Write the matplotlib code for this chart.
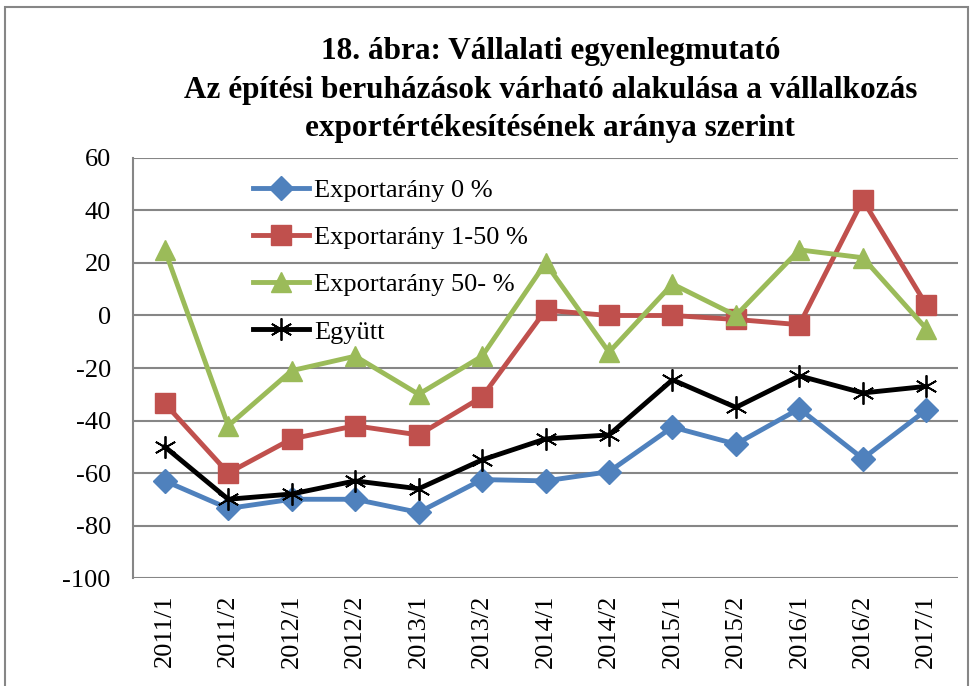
import matplotlib
matplotlib.use('Agg')
import matplotlib.pyplot as plt
from matplotlib.patches import Rectangle

categories = ['2011/1', '2011/2', '2012/1', '2012/2', '2013/1', '2013/2', '2014/1',
              '2014/2', '2015/1', '2015/2', '2016/1', '2016/2', '2017/1']
export_0 = [-63, -73.5, -70, -70, -75, -62.5, -63, -59.5, -42.5, -49, -35.5, -54.5, -36]
export_1_50 = [-33.5, -60, -47, -42, -45.5, -31, 2, 0, 0, -1.5, -3.5, 44, 4]
export_50 = [25, -42, -21, -15.5, -30, -15.5, 20, -14, 12, 0, 25, 22, -5]
egyutt = [-50, -70, -68, -63, -66, -55, -47, -45.5, -24.5, -35, -23, -29.5, -27]
yticks = list(range(-100, 61, 20))

plt.rcParams['font.family'] = ['Liberation Serif', 'DejaVu Serif']
plt.rcParams['axes.unicode_minus'] = False

fig = plt.figure(figsize=(9.74, 6.86), dpi=100)
ax = fig.add_axes([0.1366, 0.1574, 0.847, 0.6123])

x = range(len(categories))
ax.plot(x, export_0, color='#4F81BD', lw=3.5, marker='D', ms=12, label='Exportarány 0 %')
ax.plot(x, export_1_50, color='#C0504D', lw=3.5, marker='s', ms=14, label='Exportarány 1-50 %')
ax.plot(x, export_50, color='#9BBB59', lw=3.5, marker='^', ms=15, label='Exportarány 50- %')
ax.plot(x, egyutt, color='black', lw=3.5, marker=(6, 2, 0), ms=16, mew=1.3, label='Együtt')

ax.set_xlim(-0.5, len(categories) - 0.5)
ax.set_ylim(-100, 60)
ax.set_yticks(yticks)
ax.set_xticks(list(x))
ax.set_xticklabels(categories, rotation=90)
ax.tick_params(axis='both', labelsize=19, length=0)
ax.tick_params(axis='y', pad=16)
ax.tick_params(axis='x', pad=12)
ax.yaxis.grid(True, color='#868686', lw=1.5)
ax.set_axisbelow(True)
for s in ['top', 'right', 'bottom']:
    ax.spines[s].set_visible(False)
ax.spines['left'].set_color('#868686')
ax.spines['left'].set_linewidth(1.5)

ax.legend(loc='upper left', bbox_to_anchor=(0.146, 0.951), frameon=False, fontsize=19,
          handlelength=2.1, labelspacing=0.9, handletextpad=0.2,
          borderpad=0, borderaxespad=0)

fig.suptitle('18. ábra: Vállalati egyenlegmutató\n'
             'Az építési beruházások várható alakulása a vállalkozás\n'
             'exportértékesítésének aránya szerint',
             x=0.565, y=0.946, va='top', fontsize=22.5, fontweight='bold', linespacing=1.43)

fig.patches.append(Rectangle((0.005, -0.01), 0.989, 1.0, transform=fig.transFigure,
                             fill=False, edgecolor='#868686', lw=1.5))

fig.savefig('out.png', dpi=100)
